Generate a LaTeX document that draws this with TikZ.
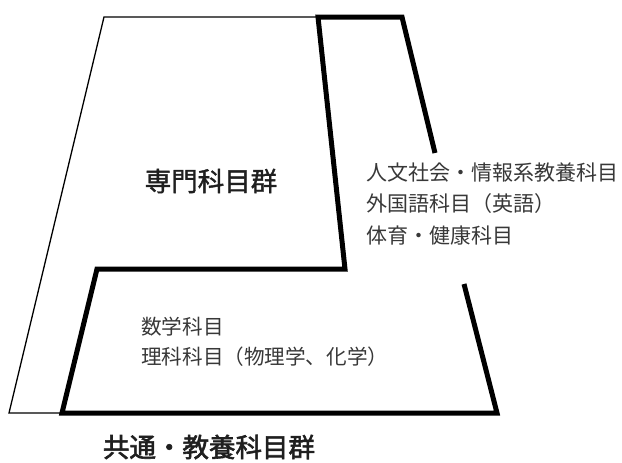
\documentclass[tikz,border=0pt]{standalone}
\usepackage{fontspec}
\newfontfamily\cjk{Noto Sans CJK JP}
\newfontfamily\cjkmed[FakeBold=1.4]{Noto Sans CJK JP}
\newfontfamily\cjkbold[FakeBold=2.2]{Noto Sans CJK JP}
\usepackage{tikz}
\usetikzlibrary{positioning}
\tikzstyle{title} = [inner sep=0pt, text=black!88]
\tikzstyle{items} = [inner sep=0pt, align=left, anchor=west, text=black!78]
\tikzstyle{thick frame} = [line width=5pt, miter limit=10]
\tikzstyle{thin frame} = [line width=1.3pt]

\begin{document}
\begin{tikzpicture}[x=1pt, y=-1pt]
			\useasboundingbox (0,0) rectangle (622,463);
			\coordinate (thin top)   at (104,17);
			\coordinate (thin foot)  at (9,413);
			\coordinate (top left)   at (318,17);
			\coordinate (top right)  at (402,17);
			\coordinate (right cut)  at (435,153);
			\coordinate (right on)   at (464,284);
			\coordinate (step in)    at (345,269);
			\coordinate (step out)   at (97,269);
			\coordinate (foot left)  at (62,413);
			\coordinate (foot right) at (497,413);

			\node[title, font=\cjkmed\fontsize{26.5}{30}\selectfont]   (senmon)  at (211,181) {専門科目群};
			\node[title, font=\cjkbold\fontsize{26.5}{30}\selectfont]  (kyotsu)  at (209,447) {共通・教養科目群};
			\node[items, font=\cjk\fontsize{21}{31.5}\selectfont]   (jinbun)  at (366,204)
				{人文社会・情報系教養科目\\外国語科目（英語）\\体育・健康科目};
			\node[items, font=\cjk\fontsize{20.6}{30}\selectfont]   (sugaku)  at (141,342)
				{数学科目\\理科科目（物理学、化学）};

			\draw[thin frame] (top left) -- (thin top) -- (thin foot) -- (foot left);
			\draw[thick frame] (right cut) -- (top right) -- (top left) -- (step in)
				-- (step out) -- (foot left) -- (foot right) -- (right on);

		\end{tikzpicture}
\end{document}
